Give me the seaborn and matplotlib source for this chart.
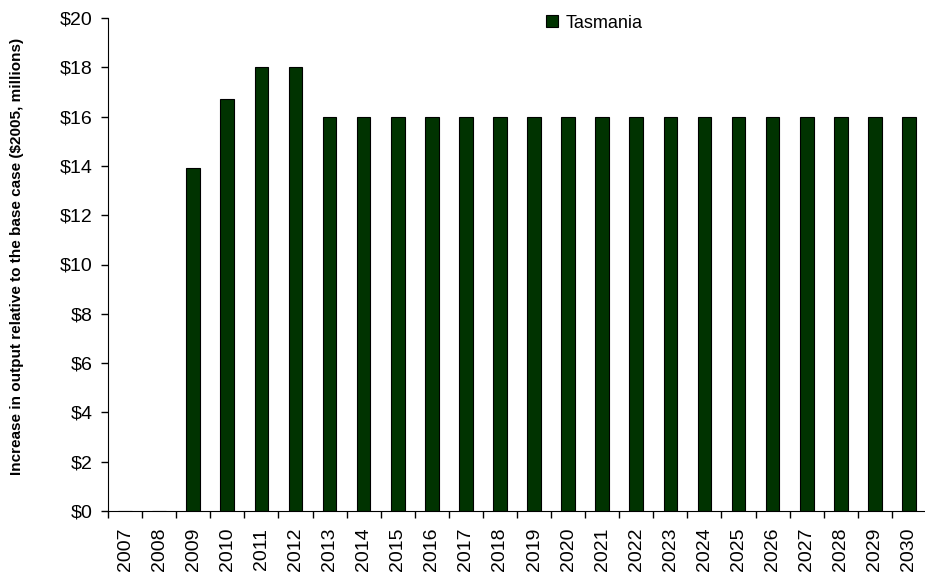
import matplotlib
matplotlib.use("Agg")
import matplotlib.pyplot as plt
import seaborn as sns
import pandas as pd
from matplotlib.ticker import FixedLocator

years = [str(y) for y in range(2007, 2031)]
tasmania = [0, 0, 13.9, 16.7, 18.0, 18.0] + [16.0] * 18
y_ticks = list(range(0, 21, 2))
y_tick_labels = [f"${v}" for v in y_ticks]

sns.set_style("white")
plt.rcParams['font.family'] = ['Liberation Sans', 'DejaVu Sans']
plt.rcParams.update({'text.color': 'black', 'axes.labelcolor': 'black',
                     'xtick.color': 'black', 'ytick.color': 'black'})

df = pd.DataFrame({"year": years, "value": tasmania, "region": "Tasmania"})

fig = plt.figure(figsize=(9.25, 5.76), dpi=100)
ax = fig.add_axes([108 / 925, 65 / 576, 818 / 925, 493 / 576])
sns.barplot(data=df, x="year", y="value", hue="region", palette=["#003300"],
            width=0.40, edgecolor="black", linewidth=0.8, ax=ax, saturation=1)

ax.set_ylim(0, 20)
ax.set_xlim(-0.5, len(years) - 0.5)
ax.set_yticks(y_ticks)
ax.set_yticklabels(y_tick_labels, fontsize=14)
ax.set_xticks(range(len(years)))
ax.set_xticklabels(years, rotation=90, fontsize=14)
ax.tick_params(axis='x', length=0, pad=12)
ax.xaxis.set_minor_locator(FixedLocator([i - 0.5 for i in range(len(years) + 1)]))
ax.tick_params(axis='x', which='minor', length=5, width=1, color='black', direction='out', bottom=True)
ax.tick_params(axis='y', length=5, width=1, color='black', direction='out', left=True, pad=6)

for s in ['top', 'right']:
    ax.spines[s].set_visible(False)
ax.spines['left'].set_color('black')
ax.spines['bottom'].set_color('black')
ax.set_xlabel("")
ax.set_ylabel("Increase in output relative to the base case ($2005, millions)",
              fontsize=11, fontweight='bold')
ax.yaxis.set_label_coords(-0.103, 0.517)

leg = ax.legend(loc='center left', bbox_to_anchor=(546 / 925, 1 - 23 / 576),
                bbox_transform=fig.transFigure, frameon=False, borderpad=0, borderaxespad=0,
                fontsize=13, handlelength=0.67, handleheight=0.67, handletextpad=0.4)

fig.savefig("out.png", dpi=100)
